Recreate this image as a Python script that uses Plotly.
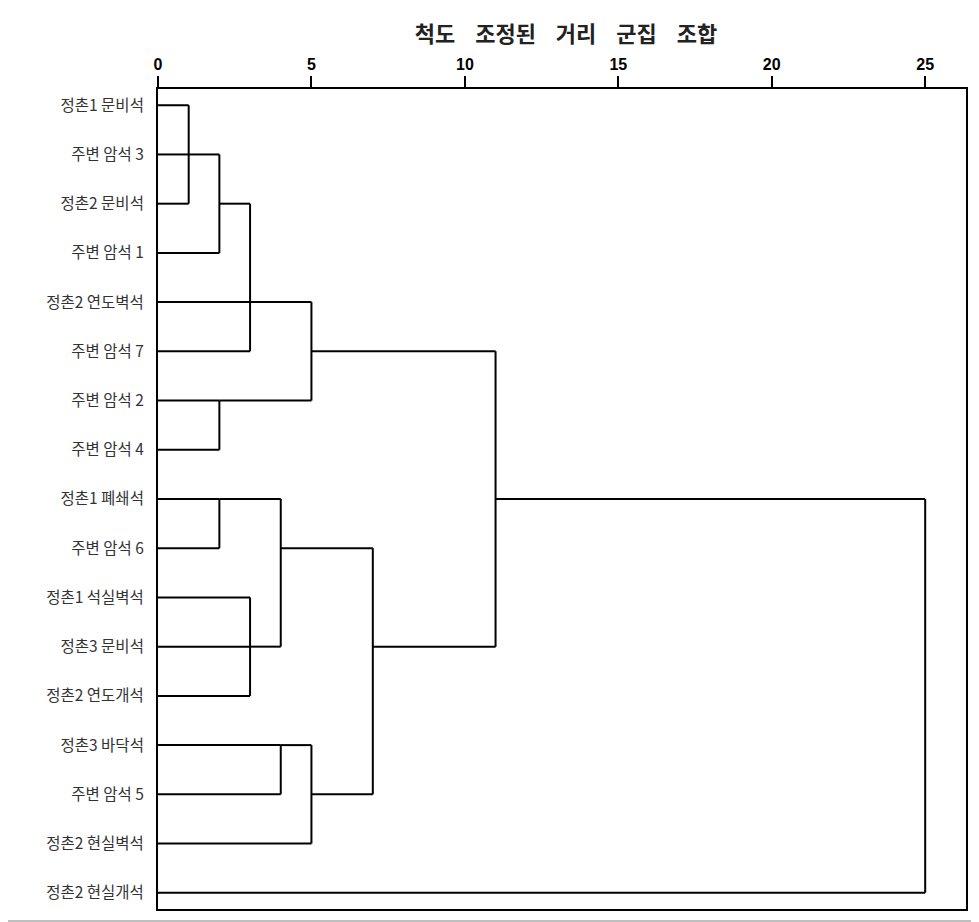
import plotly.graph_objects as go

# --- data ---------------------------------------------------------------------
leaves = [
    "정촌1 문비석", "주변 암석 3", "정촌2 문비석", "주변 암석 1",
    "정촌2 연도벽석", "주변 암석 7", "주변 암석 2", "주변 암석 4",
    "정촌1 폐쇄석", "주변 암석 6", "정촌1 석실벽석", "정촌3 문비석",
    "정촌2 연도개석", "정촌3 바닥석", "주변 암석 5", "정촌2 현실벽석",
    "정촌2 현실개석",
]

# merges, numbered after the leaves (17, 18, ...):
# first child, second child, rescaled distance, row the joined cluster continues on
merge_a = [0, 17, 18, 19, 20, 6, 21, 8, 10, 25, 24, 13, 28, 27, 23, 31]
merge_b = [2, 1, 3, 5, 4, 7, 22, 9, 12, 11, 26, 14, 15, 29, 30, 16]
merge_dist = [1, 1, 2, 3, 3, 2, 5, 2, 3, 3, 4, 4, 5, 7, 11, 25]
merge_row = [1, 1, 2, 4, 4, 6, 5, 8, 11, 11, 9, 13, 14, 11, 8, 16]

x_ticks = [0, 5, 10, 15, 20, 25]
gap = "\u00a0" * 4
title = gap.join(["척도", "조정된", "거리", "군집", "조합"])

# --- build dendrogram segments ------------------------------------------------
n = len(leaves)
node_x = {i: 0 for i in range(n)}
node_y = {i: i for i in range(n)}

xs, ys = [], []
for k, (a, b, d, r) in enumerate(zip(merge_a, merge_b, merge_dist, merge_row)):
    for child in (a, b):
        # horizontal link from child to the join height
        xs += [node_x[child], d, None]
        ys += [node_y[child], node_y[child], None]
    # vertical join
    xs += [d, d, None]
    ys += [node_y[a], node_y[b], None]
    node_x[n + k] = d
    node_y[n + k] = r

fig = go.Figure()
fig.add_trace(
    go.Scatter(
        x=xs,
        y=ys,
        mode="lines",
        line=dict(color="black", width=2),
        hoverinfo="skip",
        showlegend=False,
    )
)

fig.update_xaxes(
    side="top",
    range=[0, 26.33],
    tickvals=x_ticks,
    ticks="outside",
    ticklen=11,
    tickwidth=2,
    tickcolor="black",
    tickfont=dict(family="Liberation Sans", size=16, color="black", weight="bold"),
    showline=True,
    linecolor="black",
    linewidth=2,
    mirror=True,
    showgrid=False,
    zeroline=False,
    automargin=False,
)
fig.update_yaxes(
    range=[16.33, -0.33],
    tickvals=list(range(n)),
    ticktext=leaves,
    ticks="",
    ticklabelstandoff=9,
    tickfont=dict(family="Noto Sans CJK KR", size=15.5, color="#333"),
    showline=True,
    linecolor="black",
    linewidth=2,
    mirror=True,
    showgrid=False,
    zeroline=False,
    automargin=False,
)

# thin grey rule along the bottom edge of the image
fig.add_shape(
    type="line",
    xref="paper",
    yref="paper",
    x0=-0.2,
    x1=1.1,
    y0=-0.0146,
    y1=-0.0146,
    line=dict(color="#aaaaaa", width=1.5),
)

# page body keeps an 8px default margin, so the figure is sized to fit inside
fig.update_layout(
    width=971,
    height=914,
    margin=dict(l=150, r=13, t=81, b=13),
    paper_bgcolor="white",
    plot_bgcolor="white",
    title=dict(
        text=title,
        x=558 / 971,
        xanchor="center",
        y=1 - 26 / 914,
        yanchor="middle",
        font=dict(family="Noto Sans CJK KR", size=22, color="#222", weight="bold"),
    ),
)

fig.write_html("out.html")
